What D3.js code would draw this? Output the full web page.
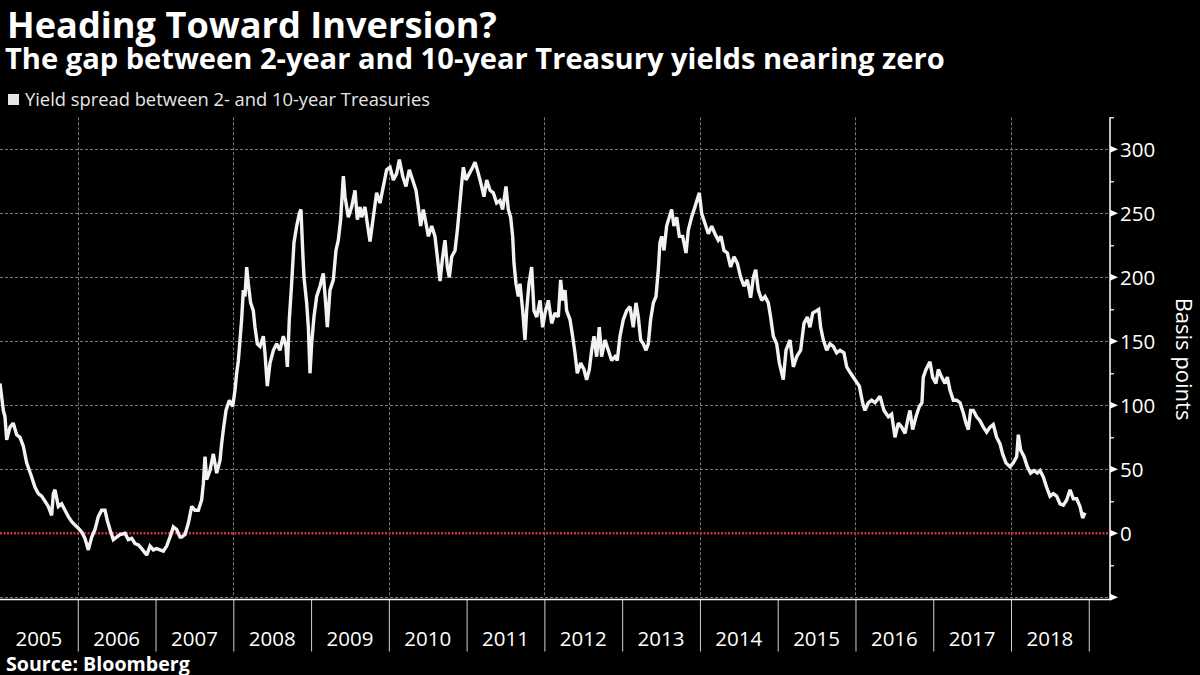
<!DOCTYPE html>
<html><head><meta charset="utf-8">
<script src="https://cdn.jsdelivr.net/npm/d3@7"></script>
<style>html,body{margin:0;padding:0;background:#000;}svg{display:block;}</style>
</head><body>
<svg id="chart" width="1200" height="675"></svg>
<script>
// ---------- DATA ----------
const titleText = "Heading Toward Inversion?";
const subtitleText = "The gap between 2-year and 10-year Treasury yields nearing zero";
const legendText = "Yield spread between 2- and 10-year Treasuries";
const sourceText = "Source: Bloomberg";
const yAxisTitle = "Basis points";
const yearLabels = [2005,2006,2007,2008,2009,2010,2011,2012,2013,2014,2015,2016,2017,2018];
const yMajorTicks = [-50,0,50,100,150,200,250,300];
const yMinorTicks = [-25,25,75,125,175,225,275,325];
const yLabelTicks = [0,50,100,150,200,250,300];
const gridYears = [2006,2008,2010,2012,2014,2016,2018];
const gridValues = [-50,50,100,150,200,250,300];
const zeroLine = 0;
// decimal-year dates and spread values (basis points)
const dates = [
2005.000,2005.043,2005.064,2005.086,2005.129,2005.171,2005.214,2005.257,2005.300,2005.343,
2005.407,2005.450,2005.493,2005.536,2005.579,2005.621,2005.664,2005.686,2005.707,2005.750,
2005.793,2005.836,2005.879,2005.922,2005.964,2006.007,2006.050,2006.093,2006.136,2006.179,
2006.222,2006.264,2006.307,2006.350,2006.380,2006.414,2006.457,2006.500,2006.543,2006.607,
2006.650,2006.693,2006.736,2006.779,2006.822,2006.886,2006.929,2006.972,2007.014,2007.057,
2007.100,2007.143,2007.186,2007.229,2007.272,2007.315,2007.336,2007.379,2007.422,2007.465,
2007.507,2007.550,2007.593,2007.615,2007.636,2007.657,2007.700,2007.743,2007.786,2007.829,
2007.850,2007.872,2007.906,2007.949,2007.992,2008.022,2008.043,2008.065,2008.086,2008.107,
2008.129,2008.150,2008.172,2008.193,2008.223,2008.257,2008.279,2008.309,2008.343,2008.386,
2008.407,2008.437,2008.472,2008.515,2008.557,2008.600,2008.643,2008.677,2008.695,2008.720,
2008.750,2008.780,2008.815,2008.849,2008.870,2008.892,2008.909,2008.943,2008.965,2008.986,
2009.007,2009.037,2009.072,2009.115,2009.157,2009.187,2009.209,2009.243,2009.286,2009.320,
2009.350,2009.380,2009.415,2009.436,2009.479,2009.522,2009.565,2009.595,2009.629,2009.650,
2009.693,2009.723,2009.758,2009.800,2009.843,2009.886,2009.929,2009.972,2010.015,2010.058,
2010.100,2010.135,2010.178,2010.220,2010.263,2010.306,2010.349,2010.379,2010.409,2010.443,
2010.478,2010.508,2010.551,2010.593,2010.623,2010.658,2010.692,2010.722,2010.752,2010.778,
2010.808,2010.851,2010.881,2010.906,2010.936,2010.958,2010.992,2011.035,2011.078,2011.108,
2011.151,2011.193,2011.223,2011.258,2011.301,2011.343,2011.386,2011.429,2011.463,2011.506,
2011.536,2011.566,2011.592,2011.609,2011.635,2011.665,2011.686,2011.721,2011.751,2011.772,
2011.802,2011.836,2011.866,2011.901,2011.944,2011.978,2012.008,2012.051,2012.094,2012.136,
2012.179,2012.209,2012.235,2012.265,2012.286,2012.329,2012.363,2012.393,2012.423,2012.466,
2012.509,2012.543,2012.578,2012.608,2012.638,2012.672,2012.706,2012.736,2012.779,2012.822,
2012.865,2012.908,2012.937,2012.972,2013.015,2013.058,2013.101,2013.143,2013.178,2013.208,
2013.238,2013.272,2013.306,2013.336,2013.366,2013.401,2013.435,2013.465,2013.486,2013.508,
2013.538,2013.572,2013.606,2013.636,2013.666,2013.701,2013.735,2013.778,2013.821,2013.851,
2013.893,2013.936,2013.992,2014.022,2014.065,2014.108,2014.151,2014.193,2014.236,2014.271,
2014.309,2014.352,2014.395,2014.438,2014.481,2014.524,2014.567,2014.609,2014.652,2014.687,
2014.717,2014.751,2014.794,2014.837,2014.879,2014.909,2014.944,2014.987,2015.021,2015.072,
2015.107,2015.158,2015.201,2015.244,2015.295,2015.338,2015.381,2015.415,2015.450,2015.501,
2015.527,2015.552,2015.587,2015.630,2015.672,2015.715,2015.758,2015.801,2015.852,2015.887,
2015.938,2015.994,2016.050,2016.092,2016.122,2016.165,2016.208,2016.251,2016.315,2016.367,
2016.423,2016.465,2016.508,2016.551,2016.594,2016.637,2016.680,2016.701,2016.735,2016.778,
2016.821,2016.855,2016.872,2016.907,2016.958,2016.992,2017.035,2017.065,2017.108,2017.151,
2017.181,2017.215,2017.258,2017.301,2017.344,2017.387,2017.421,2017.451,2017.481,2017.515,
2017.558,2017.601,2017.644,2017.687,2017.730,2017.772,2017.815,2017.858,2017.892,2017.935,
2017.987,2018.030,2018.073,2018.094,2018.124,2018.167,2018.210,2018.252,2018.295,2018.338,
2018.373,2018.415,2018.458,2018.501,2018.544,2018.587,2018.630,2018.673,2018.716,2018.759,
2018.801,2018.844,2018.887,2018.921,2018.951];
const spread = [
117,96,91,73,83,86,77,75,68,55,
44,36,31,29,25,21,14,31,34,21,
23,18,13,9,6.5,4,1,-4,-13,-3,
3,13,18,18,10,3,-5,-3,-1,0,
-5,-4,-8,-9,-12,-17,-10,-13,-12,-13,
-14,-10,-3,5,3,-3,-3,-1,8,21,
18,18,26,39,60,42,49,62,47,57,
70,81,96,104,99,112,125,135,151,167,
190,185,208,195,180,174,161,148,146,154,
141,115,133,143,148,143,154,146,130,167,
195,227,240,250,253,221,200,180,161,125,
148,169,185,193,203,180,161,190,198,221,
229,245,279,263,247,255,268,245,255,247,
255,242,228,247,266,258,271,284,286,276,
281,292,279,271,284,276,268,255,240,253,
242,232,240,232,216,197,216,229,208,200,
216,221,237,253,273,286,276,281,286,290,
281,271,263,276,268,266,258,260,253,271,
253,247,232,211,195,185,195,174,151,174,
195,208,174,169,182,161,172,182,164,172,
169,198,182,190,174,167,154,141,125,133,
128,120,128,143,154,138,161,138,151,143,
135,138,135,154,167,174,177,161,180,169,
151,148,143,148,167,180,185,206,227,232,
221,240,247,253,240,247,232,232,219,237,
247,255,266,250,242,234,240,234,229,232,
221,219,208,216,211,200,193,198,184,200,
206,190,182,185,180,169,154,148,133,120,
143,151,130,138,143,164,169,161,172,174,
175,161,151,143,148,146,141,143,141,130,
125,120,115,102,96,102,104,102,107,96,
91,93,75,86,83,78,91,96,81,91,
99,102,122,128,134,122,117,128,122,117,
122,112,104,104,102,94,86,81,96,96,
91,88,83,79,83,85,75,70,62,55,
52,55,60,77,65,60,52,47,49,47,
49,44,36,29,31,29,23,22,26,34,
27,27,21,12,16];

// ---------- LAYOUT ----------
const W = 1200, H = 675;
const plot = {left: 0, right: 1110, top: 117.3, bottom: 597.3};
const svg = d3.select("#chart");
svg.append("rect").attr("width", W).attr("height", H).attr("fill", "#000");

const x = d3.scaleLinear().domain([2005, 2005 + 1110/77.77]).range([plot.left, plot.right]);
const y = d3.scaleLinear().domain([-50, 325]).range([plot.bottom, plot.top]);

function fit(sel, target){
  const w = sel.node().getComputedTextLength();
  const fs = parseFloat(sel.attr("font-size"));
  sel.attr("font-size", (fs*target/w).toFixed(2));
}

// Titles
fit(svg.append("text").attr("x", 7).attr("y", 37.5).attr("fill", "#fff")
  .attr("font-family", "Open Sans").attr("font-weight", "bold").attr("font-size", 30)
  .text(titleText), 490);
fit(svg.append("text").attr("x", 5).attr("y", 69).attr("fill", "#fff")
  .attr("font-family", "Open Sans").attr("font-weight", "bold").attr("font-size", 22)
  .text(subtitleText), 940);

// Legend
svg.append("rect").attr("x", 8).attr("y", 94).attr("width", 11).attr("height", 11).attr("fill", "#e6e6e6");
fit(svg.append("text").attr("x", 25).attr("y", 106).attr("fill", "#e6e6e6")
  .attr("font-family", "Open Sans").attr("font-size", 16)
  .text(legendText), 405);

// Gridlines
const grid = svg.append("g").attr("stroke", "#7a7a7a").attr("stroke-width", 1).attr("stroke-dasharray", "3,2");
grid.selectAll(".gy").data(gridValues).join("line")
  .attr("x1", plot.left).attr("x2", plot.right)
  .attr("y1", d => Math.round(y(d)) + 0.5).attr("y2", d => Math.round(y(d)) + 0.5);
grid.selectAll(".gx").data(gridYears).join("line")
  .attr("y1", plot.top).attr("y2", plot.bottom)
  .attr("x1", d => Math.round(x(d)) + 0.5).attr("x2", d => Math.round(x(d)) + 0.5);

// Zero line
svg.append("line").attr("x1", plot.left).attr("x2", plot.right)
  .attr("y1", y(zeroLine)).attr("y2", y(zeroLine))
  .attr("stroke", "#c8323c").attr("stroke-width", 2.6).attr("stroke-dasharray", "2,1.5");

// Series line
const series = dates.map((d, i) => ({t: d, v: spread[i]}));
svg.append("path").datum(series)
  .attr("fill", "none").attr("stroke", "#f2f2f2").attr("stroke-width", 3.4)
  .attr("stroke-linejoin", "miter").attr("stroke-miterlimit", 2)
  .attr("d", d3.line().x(d => x(d.t)).y(d => y(d.v)));

// Bottom axis (year separators)
const xAxisY = 599.5;
const xAxis = d3.axisBottom(x).tickValues(d3.range(2006, 2020)).tickSize(52).tickFormat("");
const gx = svg.append("g").attr("transform", `translate(0,${xAxisY})`).call(xAxis);
gx.select(".domain").remove();
gx.selectAll(".tick line").attr("stroke", "#cfcfcf").attr("stroke-width", 1);
svg.append("line").attr("x1", plot.left).attr("x2", plot.right)
  .attr("y1", xAxisY).attr("y2", xAxisY).attr("stroke", "#fff").attr("stroke-width", 1.5);
svg.append("g").selectAll("text").data(yearLabels).join("text")
  .attr("x", d => x(d + 0.5)).attr("y", 646).attr("text-anchor", "middle")
  .attr("fill", "#fff").attr("font-family", "Open Sans").attr("font-size", 20.5)
  .text(d => d);

// Right axis
const axisX = plot.right;
const gyMinor = svg.append("g").attr("transform", `translate(${axisX},0)`)
  .call(d3.axisRight(y).tickValues(yMinorTicks).tickSize(4).tickFormat(""));
gyMinor.select(".domain").remove();
gyMinor.selectAll(".tick line").attr("stroke", "#fff").attr("stroke-width", 1.2);
const gyMajor = svg.append("g").attr("transform", `translate(${axisX},0)`)
  .call(d3.axisRight(y).tickValues(yLabelTicks).tickSize(0).tickPadding(10));
gyMajor.select(".domain").remove();
gyMajor.selectAll(".tick text").attr("fill", "#fff").attr("font-family", "Open Sans")
  .attr("font-size", 20.5).attr("dy", "0.34em");
svg.append("g").selectAll("path").data(yMajorTicks).join("path")
  .attr("transform", d => `translate(${axisX},${y(d)})`)
  .attr("d", "M0,-3.5L8,0L0,3.5Z").attr("fill", "#fff");
svg.append("line").attr("x1", axisX).attr("x2", axisX)
  .attr("y1", plot.top).attr("y2", xAxisY + 0.5).attr("stroke", "#fff").attr("stroke-width", 1.5);

// Y axis title
svg.append("text").attr("transform", `translate(1176,359) rotate(90)`)
  .attr("text-anchor", "middle").attr("fill", "#fff")
  .attr("font-family", "Open Sans").attr("font-size", 22).text(yAxisTitle);

// Source
fit(svg.append("text").attr("x", 6).attr("y", 670.5).attr("fill", "#fff")
  .attr("font-family", "Open Sans").attr("font-weight", "bold").attr("font-size", 16)
  .text(sourceText), 184);
</script>
</body></html>
